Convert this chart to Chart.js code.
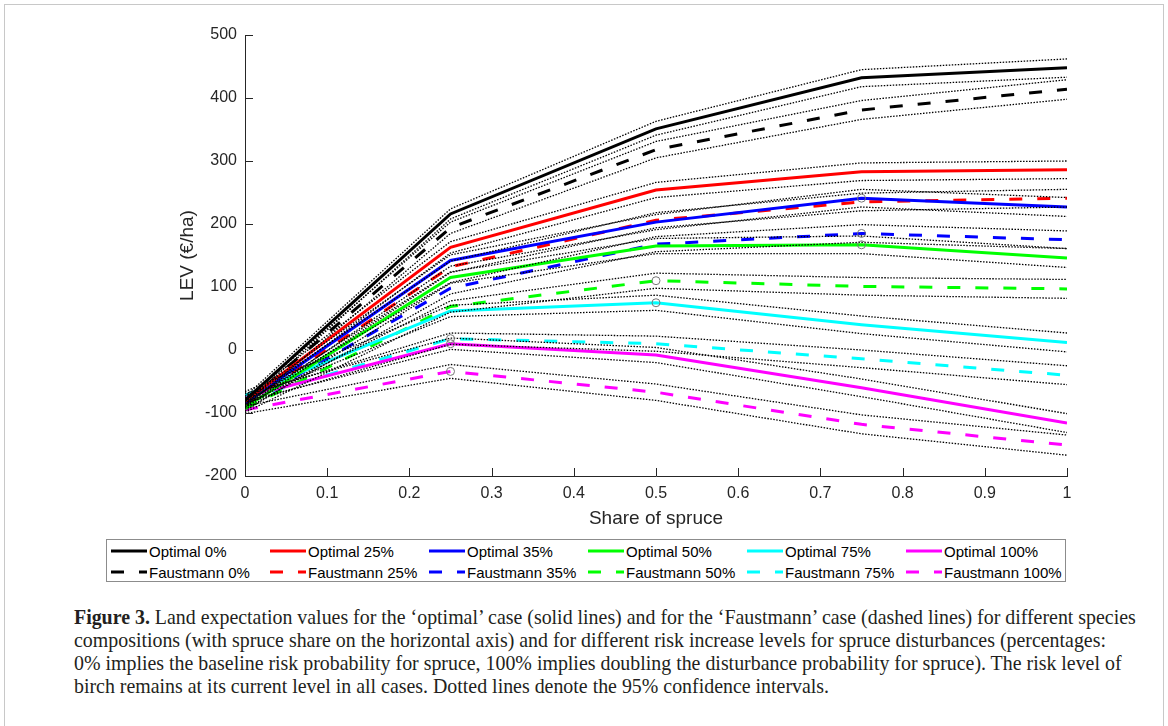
<!DOCTYPE html>
<html>
<head>
<meta charset="utf-8">
<script src="https://cdn.jsdelivr.net/npm/chart.js@4.4.1/dist/chart.umd.min.js"></script>
<style>
body { margin: 0; background: #fff; }
#page { position: relative; width: 1168px; height: 726px; overflow: hidden; background: #fff; }
#frame { position: absolute; left: 4px; top: 4px; width: 1158px; height: 740px; border: 1px solid #c8c8c8; }
#lev-chart { position: absolute; left: 0; top: 0; }
#legend { position: absolute; left: 106px; top: 539px; width: 958px; height: 41px; border: 1px solid #8c8c8c; background: #fff;
  font-family: "Liberation Sans", Arial, sans-serif; font-size: 15px; color: #000; }
.legend-row { display: flex; padding-left: 4px; height: 20px; margin-top: 1px; }
.legend-item { width: 159.6px; display: flex; align-items: center; white-space: nowrap; }
.legend-item svg { margin-right: 2px; }
#caption { position: absolute; left: 74px; top: 606px; width: 1090px; font-family: "Liberation Serif", "Times New Roman", serif;
  font-size: 19.9px; line-height: 23px; color: #231f20; white-space: nowrap; }
</style>
</head>
<body>
<div id="page">
  <div id="frame"></div>
  <canvas id="lev-chart" width="1168" height="536"></canvas>
  <div id="legend"></div>
  <div id="caption">
    <b>Figure 3.</b> Land expectation values for the ‘optimal’ case (solid lines) and for the ‘Faustmann’ case (dashed lines) for different species<br>
    compositions (with spruce share on the horizontal axis) and for different risk increase levels for spruce disturbances (percentages:<br>
    0% implies the baseline risk probability for spruce, 100% implies doubling the disturbance probability for spruce). The risk level of<br>
    birch remains at its current level in all cases. Dotted lines denote the 95% confidence intervals.
  </div>
</div>
<script>
const canvas = document.getElementById("lev-chart");
const legendBox = document.getElementById("legend");

// share of spruce (x axis)
const shares = [0, 0.25, 0.5, 0.75, 1];

// LEV (€/ha)
const optimal0 = [-80, 216, 351, 432, 448];
const optimal25 = [-82, 163, 254, 283, 286];
const optimal35 = [-84, 142, 203, 241, 227];
const optimal50 = [-91, 115, 165, 167, 146];
const optimal75 = [-72, 62, 75, 40, 12];
const optimal100 = [-75, 10, -8, -60, -116];

const faustmann0 = [-85, 194, 318, 381, 414];
const faustmann25 = [-86, 132, 206, 235, 241];
const faustmann35 = [-88, 98, 168, 185, 175];
const faustmann50 = [-93, 69, 110, 101, 97];
const faustmann75 = [-78, 18, 10, -14, -40];
const faustmann100 = [-95, -34, -67, -118, -151];

// 95% confidence bounds (dotted lines)
const optimal0Lo = [-86, 208, 341, 418, 433];
const optimal0Hi = [-74, 224, 363, 445, 462];
const optimal25Lo = [-88, 154, 242, 269, 272];
const optimal25Hi = [-76, 172, 266, 297, 300];
const optimal35Lo = [-90, 133, 191, 227, 212];
const optimal35Hi = [-78, 151, 215, 255, 242];
const optimal50Lo = [-97, 106, 153, 153, 131];
const optimal50Hi = [-85, 124, 177, 181, 161];
const optimal75Lo = [-78, 53, 63, 26, -3];
const optimal75Hi = [-66, 71, 87, 54, 27];
const optimal100Lo = [-81, 1, -20, -74, -131];
const optimal100Hi = [-69, 19, 4, -46, -101];

const faustmann0Lo = [-91, 185, 305, 366, 398];
const faustmann0Hi = [-79, 203, 331, 396, 429];
const faustmann25Lo = [-92, 123, 194, 221, 227];
const faustmann25Hi = [-80, 141, 218, 249, 255];
const faustmann35Lo = [-94, 89, 156, 171, 161];
const faustmann35Hi = [-82, 107, 180, 199, 189];
const faustmann50Lo = [-99, 60, 98, 87, 82];
const faustmann50Hi = [-87, 78, 122, 115, 112];
const faustmann75Lo = [-84, 9, -2, -28, -55];
const faustmann75Hi = [-72, 27, 22, 0, -25];
const faustmann100Lo = [-101, -45, -80, -133, -167];
const faustmann100Hi = [-89, -23, -54, -103, -135];

// small circles marking the best share per curve
const markerShares = [0.25, 0.25, 0.25, 0.5, 0.5, 0.75, 0.75, 0.75];
const markerLev = [18, 10, -34, 110, 75, 241, 185, 167];

const riskLevels = ["0%", "25%", "35%", "50%", "75%", "100%"];
const riskColors = ["#000000", "#ff0000", "#0000ff", "#00ff00", "#00ffff", "#ff00ff"];
const optimalSeries = [optimal0, optimal25, optimal35, optimal50, optimal75, optimal100];
const faustmannSeries = [faustmann0, faustmann25, faustmann35, faustmann50, faustmann75, faustmann100];
const optimalLo = [optimal0Lo, optimal25Lo, optimal35Lo, optimal50Lo, optimal75Lo, optimal100Lo];
const optimalHi = [optimal0Hi, optimal25Hi, optimal35Hi, optimal50Hi, optimal75Hi, optimal100Hi];
const faustmannLo = [faustmann0Lo, faustmann25Lo, faustmann35Lo, faustmann50Lo, faustmann75Lo, faustmann100Lo];
const faustmannHi = [faustmann0Hi, faustmann25Hi, faustmann35Hi, faustmann50Hi, faustmann75Hi, faustmann100Hi];

const DASH = [13, 15];
const axisColor = "#262626";
const sansFont = "'Liberation Sans', Arial, sans-serif";

function toPoints(values) {
    return shares.map(function(s, i) { return { x: s, y: values[i] }; });
}

function mainLine(label, values, color, dashed) {
    return {
        label: label,
        data: toPoints(values),
        borderColor: color,
        backgroundColor: color,
        borderWidth: 3,
        borderDash: dashed ? DASH : [],
        pointRadius: 0,
        tension: 0,
        order: 2
    };
}

function ciLine(values) {
    return {
        label: "",
        data: toPoints(values),
        borderColor: "#000000",
        borderWidth: 1.3,
        borderDash: [1.5, 1.5],
        pointRadius: 0,
        tension: 0,
        order: 1
    };
}

let datasets = [];
riskLevels.forEach(function(level, i) {
    datasets.push(mainLine("Optimal " + level, optimalSeries[i], riskColors[i], false));
});
riskLevels.forEach(function(level, i) {
    datasets.push(mainLine("Faustmann " + level, faustmannSeries[i], riskColors[i], true));
});
riskLevels.forEach(function(level, i) {
    datasets.push(ciLine(optimalLo[i]));
    datasets.push(ciLine(optimalHi[i]));
    datasets.push(ciLine(faustmannLo[i]));
    datasets.push(ciLine(faustmannHi[i]));
});
datasets.push({
    label: "",
    data: markerShares.map(function(s, i) { return { x: s, y: markerLev[i] }; }),
    showLine: false,
    pointRadius: 4,
    pointBorderWidth: 1,
    pointBorderColor: "#777777",
    pointBackgroundColor: "rgba(0,0,0,0)",
    order: 0
});

// MATLAB style ticks pointing into the axes
const inwardTicks = {
    id: "inwardTicks",
    afterDraw(chart) {
        const ctx = chart.ctx;
        const x = chart.scales.x;
        const y = chart.scales.y;
        const area = chart.chartArea;
        ctx.save();
        ctx.strokeStyle = axisColor;
        ctx.lineWidth = 1;
        ctx.beginPath();
        x.ticks.forEach(function(t) {
            const px = Math.round(x.getPixelForValue(t.value)) + 0.5;
            ctx.moveTo(px, area.bottom);
            ctx.lineTo(px, area.bottom - 8);
        });
        y.ticks.forEach(function(t) {
            const py = Math.round(y.getPixelForValue(t.value)) + 0.5;
            ctx.moveTo(area.left, py);
            ctx.lineTo(area.left + 8, py);
        });
        ctx.stroke();
        ctx.restore();
    }
};

new Chart(canvas.getContext("2d"), {
    type: "line",
    data: { datasets: datasets },
    options: {
        responsive: false,
        animation: false,
        layout: { padding: { left: 172, right: 101, top: 35, bottom: 0 } },
        plugins: { legend: { display: false }, tooltip: { enabled: false } },
        scales: {
            x: {
                type: "linear",
                min: 0,
                max: 1,
                grid: { display: false, drawTicks: false },
                border: { color: axisColor, width: 1 },
                ticks: {
                    stepSize: 0.1,
                    padding: 8,
                    maxRotation: 0,
                    color: axisColor,
                    font: { family: sansFont, size: 16 },
                    callback: function(v) { return String(+v.toFixed(1)); }
                },
                title: {
                    display: true,
                    text: "Share of spruce",
                    color: axisColor,
                    font: { family: sansFont, size: 19 },
                    padding: { top: 2, bottom: 6 }
                },
                afterFit: function(scale) { scale.height = 60; }
            },
            y: {
                min: -200,
                max: 500,
                grid: { display: false, drawTicks: false },
                border: { color: axisColor, width: 1 },
                ticks: {
                    stepSize: 100,
                    padding: 8,
                    color: axisColor,
                    font: { family: sansFont, size: 16 }
                },
                title: {
                    display: true,
                    text: "LEV (€/ha)",
                    color: axisColor,
                    font: { family: sansFont, size: 19 },
                    padding: { top: 4, bottom: 0 }
                },
                afterFit: function(scale) { scale.width = 73; }
            }
        }
    },
    plugins: [inwardTicks]
});

// legend in two rows like the figure: optimal on top, Faustmann below
function legendSample(color, dashed) {
    let dash = dashed ? ' stroke-dasharray="' + DASH.join(" ") + '"' : "";
    return '<svg width="36" height="6"><line x1="0" y1="3" x2="36" y2="3" stroke="' + color +
        '" stroke-width="3"' + dash + '/></svg>';
}

[false, true].forEach(function(dashed) {
    let row = document.createElement("div");
    row.className = "legend-row";
    riskLevels.forEach(function(level, i) {
        let item = document.createElement("div");
        item.className = "legend-item";
        let text = document.createElement("span");
        text.textContent = (dashed ? "Faustmann " : "Optimal ") + level;
        item.innerHTML = legendSample(riskColors[i], dashed);
        item.appendChild(text);
        row.appendChild(item);
    });
    legendBox.appendChild(row);
});
</script>
</body>
</html>
